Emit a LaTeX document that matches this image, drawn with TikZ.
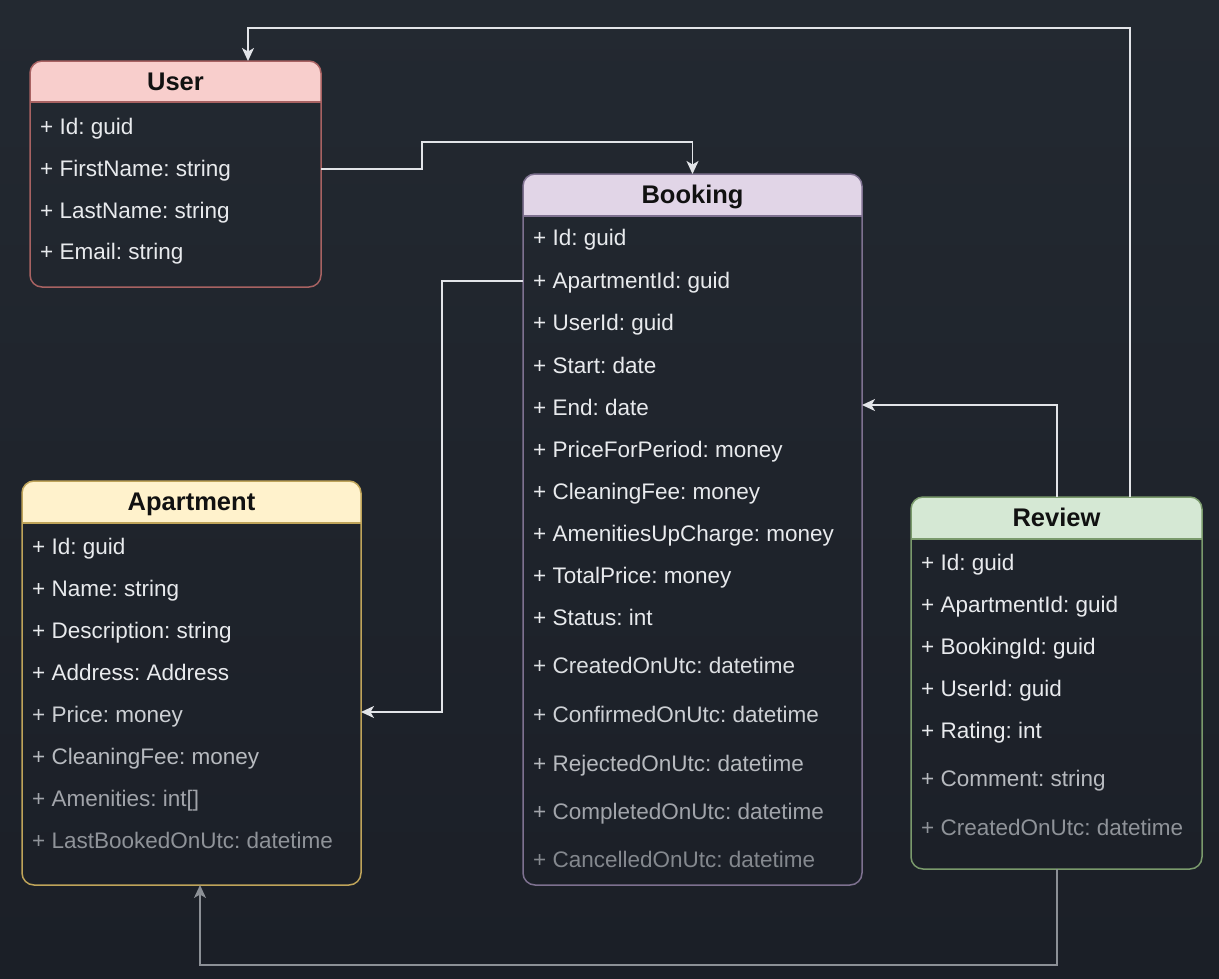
\documentclass[tikz,border=0pt]{standalone}
\usepackage{fontspec}
\setmainfont{Liberation Sans}
\usetikzlibrary{arrows.meta}
\frenchspacing
\definecolor{bgtop}{HTML}{232931}
\definecolor{bgbot}{HTML}{1B1F27}
\definecolor{txt}{HTML}{E8EAED}
\definecolor{fa}{HTML}{DCDFE2}
\definecolor{fb}{HTML}{CDD0D4}
\definecolor{fc}{HTML}{B7BABF}
\definecolor{fd}{HTML}{A1A4AA}
\definecolor{fe}{HTML}{8F9399}
\definecolor{ff}{HTML}{84888E}
\definecolor{ttlcol}{HTML}{111111}
\definecolor{uhead}{HTML}{F8CECC}
\definecolor{bhead}{HTML}{E1D5E7}
\definecolor{ahead}{HTML}{FFF2CC}
\definecolor{rhead}{HTML}{D5E8D4}
\definecolor{ubord}{HTML}{A86262}
\definecolor{bbord}{HTML}{7E7190}
\definecolor{abord}{HTML}{BFA45A}
\definecolor{rbord}{HTML}{7A9A6C}
\definecolor{linew}{HTML}{E2E4E8}
\definecolor{lineg}{HTML}{8C9096}
\tikzset{
  row/.style={anchor=west, inner sep=0pt, text height=15pt, text depth=0pt,
    font=\fontsize{22.5}{25}\selectfont\frenchspacing, text=txt},
  ttl/.style={inner sep=0pt, text height=17pt, text depth=0pt,
    font=\fontsize{25.5}{29}\selectfont\bfseries, text=ttlcol},
  conn/.style={draw=linew, line width=1.5pt,
    -{Stealth[length=13pt,width=12pt,inset=3.5pt]}},
  conng/.style={conn, draw=lineg},
}
\newcommand\umlbox[9]{%
  \node[inner sep=0pt, outer sep=0pt, minimum width=#4pt, minimum height=#5pt] (#1) at ({#2+#4/2},{#3+#5/2}) {};
  \begin{scope}
    \clip[rounded corners=12pt] (#1.north west) rectangle (#1.south east);
    \fill[#7] (#1.north west) rectangle ([yshift={-(#6)*1pt}]#1.north east);
  \end{scope}
  \draw[#8, line width=1.5pt] ([yshift={-(#6)*1pt}]#1.north west) -- ([yshift={-(#6)*1pt}]#1.north east);
  \draw[#8, line width=1.5pt, rounded corners=12pt] (#1.north west) rectangle (#1.south east);
  \node[ttl] (#1-title) at ([yshift={-(#6)*0.5pt}]#1.north) {#9};
}
\begin{document}
\begin{tikzpicture}[x=1pt, y=-1pt]
\useasboundingbox (0,0) rectangle (1219,978);
\shade[top color=bgtop, bottom color=bgbot] (0,0) rectangle (1219,978);

% User
\umlbox{user}{30}{61}{291}{226}{41}{uhead}{ubord}{User}
\node[row] (u1) at (40,127) {+ Id: guid};
\node[row] (u2) at (40,169) {+ FirstName: string};
\node[row] (u3) at (40,211) {+ LastName: string};
\node[row] (u4) at (40,252) {+ Email: string};

% Booking
\umlbox{booking}{523}{174}{339}{711}{42}{bhead}{bbord}{Booking}
\node[row] (b1) at (533,238) {+ Id: guid};
\node[row] (b2) at (533,281) {+ ApartmentId: guid};
\node[row] (b3) at (533,323) {+ UserId: guid};
\node[row] (b4) at (533,366) {+ Start: date};
\node[row] (b5) at (533,408) {+ End: date};
\node[row] (b6) at (533,450) {+ PriceForPeriod: money};
\node[row] (b7) at (533,492) {+ CleaningFee: money};
\node[row] (b8) at (533,534) {+ AmenitiesUpCharge: money};
\node[row] (b9) at (533,576) {+ TotalPrice: money};
\node[row] (b10) at (533,618) {+ Status: int};
\node[row, text=fa] (b11) at (533,666) {+ CreatedOnUtc: datetime};
\node[row, text=fb] (b12) at (533,715) {+ ConfirmedOnUtc: datetime};
\node[row, text=fc] (b13) at (533,764) {+ RejectedOnUtc: datetime};
\node[row, text=fd] (b14) at (533,812) {+ CompletedOnUtc: datetime};
\node[row, text=ff] (b15) at (533,860) {+ CancelledOnUtc: datetime};

% Apartment
\umlbox{apartment}{22}{481}{339}{404}{42}{ahead}{abord}{Apartment}
\node[row] (a1) at (32,547) {+ Id: guid};
\node[row] (a2) at (32,589) {+ Name: string};
\node[row] (a3) at (32,631) {+ Description: string};
\node[row] (a4) at (32,673) {+ Address: Address};
\node[row, text=fb] (a5) at (32,715) {+ Price: money};
\node[row, text=fc] (a6) at (32,757) {+ CleaningFee: money};
\node[row, text=fd] (a7) at (32,799) {+ Amenities: int[]};
\node[row, text=fe] (a8) at (32,841) {+ LastBookedOnUtc: datetime};

% Review
\umlbox{review}{911}{497}{291}{372}{42}{rhead}{rbord}{Review}
\node[row] (r1) at (921,563) {+ Id: guid};
\node[row] (r2) at (921,605) {+ ApartmentId: guid};
\node[row] (r3) at (921,647) {+ BookingId: guid};
\node[row] (r4) at (921,689) {+ UserId: guid};
\node[row] (r5) at (921,731) {+ Rating: int};
\node[row, text=fc] (r6) at (921,779) {+ Comment: string};
\node[row, text=fe] (r7) at (921,828) {+ CreatedOnUtc: datetime};

% bend points
\coordinate (j1) at (422,142);
\coordinate (j2) at (442,500);
\coordinate (j3) at (1057,405);
\coordinate (j4) at (1130,28);
\coordinate (j5) at (248,28);
\coordinate (j6) at (1057,965);
\coordinate (j7) at (200,965);

% connectors
\draw[conn] (user.east |- u2) -| (j1) -| (booking.north);
\draw[conn] (booking.west |- b2) -| (j2) |- (apartment.east |- 0,712);
\draw[conn] (j3 |- review.north) -- (j3) -- (booking.east |- j3);
\draw[conn] (j4 |- review.north) -- (j4) -- (j5) -- (j5 |- user.north);
\draw[conng] (j6 |- review.south) -- (j6) -- (j7) -- (j7 |- apartment.south);
\end{tikzpicture}
\end{document}
